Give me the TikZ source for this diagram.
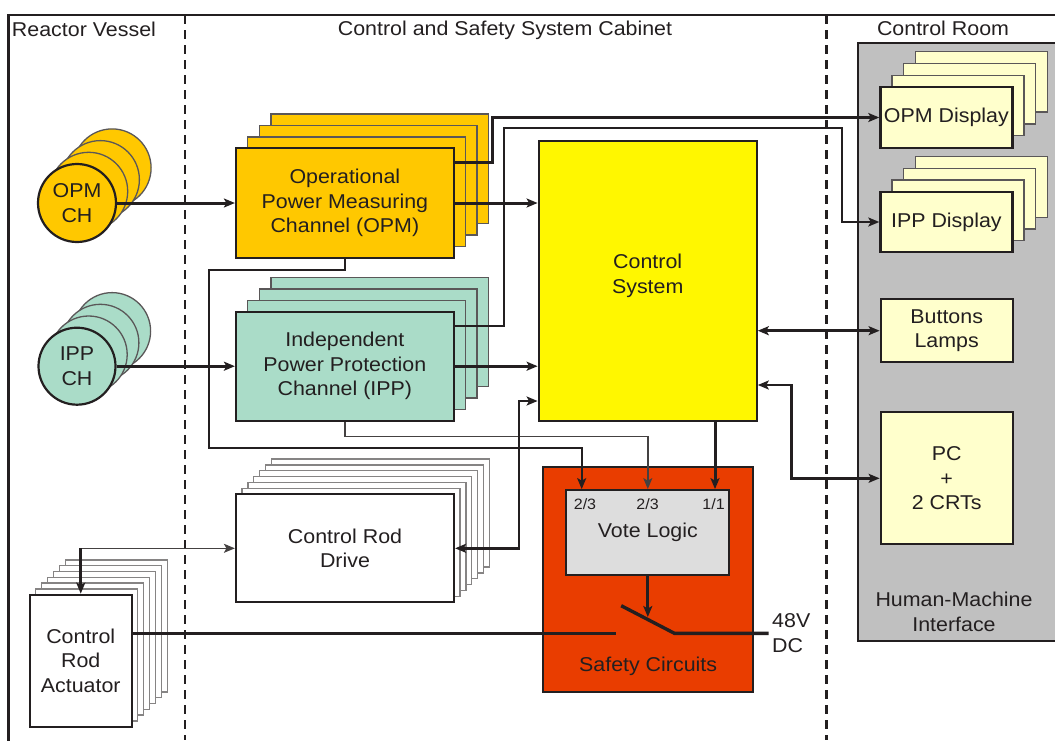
\documentclass[tikz,border=0pt]{standalone}
\usepackage{fontspec}
\setmainfont{Liberation Sans}[FakeStretch=1.07]
\usetikzlibrary{arrows.meta,calc}

\definecolor{ink}{HTML}{231F20}
\definecolor{opmfill}{HTML}{FFC800}
\definecolor{ippfill}{HTML}{AADCC8}
\definecolor{csfill}{HTML}{FFF700}
\definecolor{dispfill}{HTML}{FFFFCC}
\definecolor{hmifill}{HTML}{C0C0C0}
\definecolor{safefill}{HTML}{E93D00}
\definecolor{votefill}{HTML}{DDDDDD}

\newcommand\bigtxt{\fontsize{20}{24.5}\selectfont}
\newcommand\smalltxt{\fontsize{15}{18}\selectfont}

\begin{document}
\begin{tikzpicture}[x=1pt,y=-1pt,
  every node/.style={text=ink},
  box/.style={draw=ink, line width=2.2pt, inner sep=0pt, align=center, font=\bigtxt},
  backbox/.style={draw=ink!75, line width=1.3pt},
  backwhite/.style={draw=ink!55, line width=1.4pt, fill=white},
  lbl/.style={inner sep=0pt, font=\bigtxt, align=center},
  tip/.style={-{Stealth[length=11pt,width=9pt,inset=2.5pt]}},
  arr/.style={tip, line width=3pt, draw=ink},
  arrboth/.style={{Stealth[length=11pt,width=9pt,inset=2.5pt]}-{Stealth[length=11pt,width=9pt,inset=2.5pt]}, line width=2.6pt, draw=ink},
  midarr/.style={tip, line width=2pt, draw=ink},
  thinarr/.style={tip, line width=1.5pt, draw=ink!85},
  wire/.style={line width=3.4pt, draw=ink},
  zone/.style={line width=2.2pt, draw=ink, dash pattern=on 9pt off 6pt}
]
\useasboundingbox (0,0) rectangle (1055,740);

% outer frame and zone separators
\draw[line width=2.4pt, draw=ink] (8.5,760) -- (8.5,15) -- (1070,15);
\draw[zone] (185.3,15) -- (185.3,740);
\draw[zone] (826.5,15) -- (826.5,740);

% zone titles
\node[lbl, anchor=base west] (tRV) at (11.8,36.5) {Reactor Vessel};
\node[lbl, anchor=base] (tCS) at (505,35.7) {Control and Safety System Cabinet};
\node[lbl, anchor=base] (tCR) at (943,35.7) {Control Room};

% human-machine interface panel
\node[draw=ink, line width=2pt, fill=hmifill, minimum width=217.5pt, minimum height=597.7pt, inner sep=0pt] (hmi) at (966.25,342.15) {};
\node[lbl] (hmitxt) at (954,611.9) {Human-Machine\\Interface};

% detector channels (stacked discs)
\foreach \k in {3,2,1}
  \draw[backbox, fill=opmfill] ({77+11.7*\k},{203-11.7*\k}) circle[radius=39pt];
\node[box, circle, fill=opmfill, minimum size=78pt] (opmch) at (77,203) {OPM\\CH};
\foreach \k in {3,2,1}
  \draw[backbox, fill=ippfill] ({77+11.7*\k},{366.2-11.7*\k}) circle[radius=38.5pt];
\node[box, circle, fill=ippfill, minimum size=77pt] (ippch) at (77,366.2) {IPP\\CH};

% measuring and protection channel stacks
\foreach \k in {3,2,1}
  \draw[backbox, fill=opmfill] ({236+11.7*\k},{148.3-11.4*\k}) rectangle ++(217.7,109.4);
\node[box, fill=opmfill, minimum width=217.7pt, minimum height=109.4pt] (opm) at (344.85,203) {Operational\\Power Measuring\\Channel (OPM)};
\foreach \k in {3,2,1}
  \draw[backbox, fill=ippfill] ({236+11.7*\k},{311.7-11.4*\k}) rectangle ++(217.7,109);
\node[box, fill=ippfill, minimum width=217.7pt, minimum height=109pt] (ipp) at (344.85,366.2) {Independent\\Power Protection\\Channel (IPP)};

% control rod drive stack
\foreach \k in {6,5,...,1}
  \draw[backwhite] ({236+5.9*\k},{494.3-5.9*\k}) rectangle ++(218,108);
\node[box, fill=white, minimum width=218pt, minimum height=108pt] (crd) at (345,548.3) {Control Rod\\Drive};

% control rod actuator stack
\foreach \k in {6,5,...,1}
  \draw[backwhite] ({29.7+6*\k},{594.7-5.8*\k}) rectangle ++(102,132);
\node[box, fill=white, minimum width=102pt, minimum height=132pt] (act) at (80.75,660.7) {Control\\Rod\\Actuator};

% control system
\node[box, fill=csfill, minimum width=218pt, minimum height=280pt] (cs) at (647.7,280.7) {};
\node[lbl] (cstxt) at (647.7,275.6) {Control\\System};

% safety circuits and vote logic
\node[box, fill=safefill, minimum width=210pt, minimum height=225pt] (safe) at (648.1,579.2) {};
\node[lbl, anchor=base] (safetxt) at (648.1,671) {Safety Circuits};
\node[box, fill=votefill, minimum width=163pt, minimum height=85pt] (vote) at (647.8,532.7) {};
\node[lbl, anchor=base] (votetxt) at (647.8,537.3) {Vote Logic};
\node[inner sep=0pt, font=\smalltxt, anchor=base] (in1) at (585,509.3) {2/3};
\node[inner sep=0pt, font=\smalltxt, anchor=base] (in2) at (647.6,509.3) {2/3};
\node[inner sep=0pt, font=\smalltxt, anchor=base] (in3) at (713.6,509.3) {1/1};

% control room displays
\foreach \k in {3,2,1}
  \draw[backbox, fill=dispfill] ({880.4+11.7*\k},{87.3-11.9*\k}) rectangle ++(132,60.4);
\node[box, fill=dispfill, minimum width=132pt, minimum height=60.4pt] (opmd) at (946.4,117.5) {OPM Display};
\foreach \k in {3,2,1}
  \draw[backbox, fill=dispfill] ({880.4+11.7*\k},{191.7-11.7*\k}) rectangle ++(132,60.6);
\node[box, fill=dispfill, minimum width=132pt, minimum height=60.6pt] (ippd) at (946.4,222) {IPP Display};
\node[box, fill=dispfill, minimum width=132pt, minimum height=62.7pt] (btn) at (946.7,330.7) {Buttons\\Lamps};
\node[box, fill=dispfill, minimum width=132pt, minimum height=132pt] (pc) at (946.7,478.3) {PC\\+\\2 CRTs};

% signal routing
\draw[arr] (opmch.east) -- (opmch.east -| opm.west);
\draw[arr] (ippch.east) -- (ippch.east -| ipp.west);
\draw[arr] (opm.east) -- (opm.east -| cs.west);
\draw[arr] (ipp.east) -- (ipp.east -| cs.west);

\coordinate (r1) at (492.3,117.5);
\draw[arr] ($(opm.north east)+(0,15)$) -| (r1) -- (opmd.west);

\coordinate (r2) at (504.3,128.3);
\coordinate (r3) at (842.3,222);
\draw[midarr] ($(ipp.north east)+(0,15)$) -| (r2) -| (r3) -- (ippd.west);

% trip inputs to the vote logic
\coordinate (v1) at ($(vote.north west)+(16.5,0)$);
\coordinate (v3) at ($(vote.north east)+(-15.4,0)$);
\coordinate (r4) at (208.6,447.5);
\draw[midarr] (opm.south) -- ++(0,11.3) -| (r4) -| (v1);
\draw[thinarr] (ipp.south) -- ++(0,14.8) -| (vote.north);
\draw[arr] (v3 |- cs.south) -- (v3);

% control room links
\draw[arrboth] (cs.east |- btn.west) -- (btn.west);
\coordinate (r5) at (791.7,478.3);
\draw[arrboth] (cs.east |- 0,385) -| (r5) -- (pc.west);

% control rod drive links
\coordinate (r6) at (519,401);
\draw[arrboth] (crd.east) -| (r6) -- (r6 -| cs.west);
\coordinate (ac) at (act.north |- crd.west);
\draw[thinarr] (ac) -- (crd.west);
\draw[arr] (ac) -- (act.north);

% trip switch
\coordinate (swl) at (615.7,633.3);
\coordinate (sw1) at (621.2,605.7);
\coordinate (sw2) at (674.4,633.3);
\coordinate (swr) at (768.6,633.3);
\draw[arr] (vote.south) -- (vote.south |- 0,617);
\draw[wire] (act.east |- swl) -- (swl);
\draw[wire] (sw1) -- (sw2) -- (swr);
\node[lbl, anchor=west, align=left] (dc) at (772,633.2) {48V\\DC};
\end{tikzpicture}
\end{document}
